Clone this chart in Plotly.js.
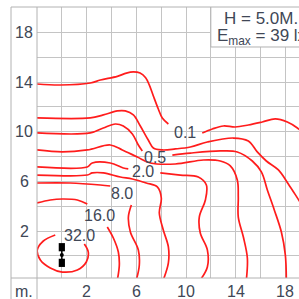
<!DOCTYPE html>
<html>
<head>
<meta charset="utf-8">
<script src="https://cdn.plot.ly/plotly-3.0.1.min.js"></script>
<style>
html,body{margin:0;padding:0;background:#fff;overflow:hidden;}
#chart{width:299px;height:299px;}
</style>
</head>
<body>
<div id="chart"></div>
<script>
// ---- data (metres / lux) ----
const xTickVals = [2, 6, 10, 14, 18];
const yTickVals = [2, 6, 10, 14, 18];
const unitLabel = 'm.';
const mountingText = 'H = 5.0M.';
const emaxText = 'E<sub>max</sub> = 39 lx';

// isolux lines
const c01aX = [-2, -0.12, 2.29, 3.10, 4.47, 5.20, 5.76, 6.30, 6.75, 7.05, 7.37, 7.77, 8.09, 8.58];
const c01aY = [13.84, 13.76, 13.92, 14.16, 14.45, 14.72, 14.81, 14.72, 14.35, 13.75, 12.88, 11.83, 11.10, 10.62];
const c01bX = [11.31, 12.12, 13.01, 13.97, 15.02, 16.14, 17.19, 18.16, 18.97, 19.61];
const c01bY = [9.90, 10.22, 10.46, 10.38, 10.54, 10.78, 11.03, 10.78, 10.30, 9.73];

const c02X = [-2, 2.29, 3.34, 4.47, 5.11, 5.76, 6.32, 6.96, 7.37, 8.09, 9.14, 10.35, 11.72, 13.81, 15.02, 15.74, 16.47, 17.44, 18.24, 19.13, 19.61];
const c02Y = [11.11, 11.11, 11.35, 11.67, 11.67, 11.35, 10.46, 9.33, 8.69, 8.53, 8.61, 8.77, 9.17, 9.49, 9.25, 8.37, 7.64, 6.92, 5.79, 4.42, 3.70];

const c05aX = [-2, 2.29, 3.34, 4.31, 4.95, 5.68, 6.16, 6.48];
const c05aY = [9.90, 9.90, 10.30, 10.62, 10.46, 9.82, 8.93, 8.45];
const c05bX = [8.90, 10.35, 12.76, 14.13, 15.34, 16.07, 16.55, 17.11, 17.68, 18.00, 18.08];
const c05bY = [8.12, 8.28, 8.45, 8.37, 7.64, 6.76, 5.31, 3.70, 1.92, 0.07, -1.94];

const c1X = [-2, 0.04, 2.05, 3.90, 4.87, 6.08, 7.13, 9.14, 11.40, 12.76, 13.57, 14.13, 14.21, 14.21, 14.62, 14.94, 14.86];
const c1Y = [8.53, 8.37, 8.53, 8.93, 8.53, 7.96, 7.48, 7.40, 7.72, 7.64, 7.24, 6.11, 4.74, 3.13, 1.52, -0.17, -1.94];

const c2aX = [-2, 2.05, 2.45, 3.90, 4.95, 5.35];
const c2aY = [7.16, 7.16, 7.48, 7.48, 7.08, 7.00];
const c2bX = [7.93, 9.54, 10.99, 11.64, 11.56, 11.07, 11.15, 11.72, 11.72, 11.15];
const c2bY = [6.68, 6.51, 6.35, 5.71, 4.50, 3.13, 1.84, 0.48, -0.89, -1.94];

const c4X = [-2, 2.05, 2.45, 3.34, 4.71, 5.68, 6.80, 7.69, 8.01, 7.85, 8.17, 8.58, 8.58, 8.17];
const c4Y = [6.51, 6.51, 6.68, 6.68, 6.35, 6.19, 5.87, 5.55, 4.66, 3.45, 2.09, 0.72, -0.57, -1.94];

const c8aX = [-2, 0.68, 3.10, 3.90];
const c8aY = [5.87, 5.87, 5.71, 5.63];
const c8bX = [5.60, 5.36, 5.52, 6.16, 6.24, 6.00];
const c8bY = [4.10, 3.13, 1.92, 0.48, -0.73, -1.94];

const c16aX = [-2, -0.93, 0.04, 1.25, 2.05];
const c16aY = [4.26, 4.50, 4.58, 4.50, 4.18];
const c16bX = [3.66, 4.15, 4.55, 4.63, 4.47];
const c16bY = [2.33, 1.44, 0.31, -0.73, -1.94];

const c32X = [-0.53, -1.49, -1.98, -1.73, -0.93, 0.04, 1.25, 1.97, 2.13, 1.81];
const c32Y = [1.68, 1.20, 0.48, -0.33, -0.97, -1.30, -1.13, -0.49, 0.31, 0.96];

const levelText = ['0.1', '0.5', '2.0', '8.0', '16.0', '32.0'];
const levelX = [9.95, 7.53, 6.56, 4.87, 3.02, 1.41];
const levelY = [9.90, 7.96, 6.76, 5.06, 3.29, 1.68];

// luminaire
const lumX = [0];
const lumY = [0.07];
const lumHeadsY = [0.70, -0.56];

// ---- styles ----
const RED = '#ff1c1c';
const TXT = '#404756';
const GRID = '#c4c4c4';
const FRAME = '#b2b2b2';
const FONT = 'Liberation Sans, Arial, sans-serif';

function iso(x, y) {
  return {type: 'scatter', mode: 'lines', x: x, y: y, hoverinfo: 'skip',
          line: {color: RED, width: 1.7, shape: 'spline', smoothing: 1}};
}

const traces = [
  iso(c01aX, c01aY), iso(c01bX, c01bY), iso(c02X, c02Y),
  iso(c05aX, c05aY), iso(c05bX, c05bY), iso(c1X, c1Y),
  iso(c2aX, c2aY), iso(c2bX, c2bY), iso(c4X, c4Y),
  iso(c8aX, c8aY), iso(c8bX, c8bY), iso(c16aX, c16aY), iso(c16bX, c16bY),
  iso(c32X, c32Y),
  {type: 'scatter', mode: 'lines', hoverinfo: 'skip',
   x: [lumX[0], lumX[0]], y: lumHeadsY, line: {color: '#000', width: 1.5}},
  {type: 'scatter', mode: 'markers', hoverinfo: 'skip',
   x: lumX, y: lumY, marker: {color: '#000', size: 4}}
];

const shapes = [];
// luminaire heads
lumHeadsY.forEach(function (hy) {
  shapes.push({type: 'rect', xref: 'x', yref: 'y', layer: 'above',
    x0: lumX[0] - 0.25, x1: lumX[0] + 0.25, y0: hy - 0.33, y1: hy + 0.33,
    fillcolor: '#000', line: {width: 0}});
});
// info box
shapes.push({type: 'rect', xref: 'x', yref: 'y', layer: 'above',
  x0: 12, x1: 30, y0: 16.82, y1: 30, fillcolor: '#fff', line: {color: FRAME, width: 1}});
// frame
const leftP = -0.0992;
shapes.push({type: 'line', xref: 'paper', yref: 'paper', layer: 'above', x0: leftP, x1: leftP, y0: -0.2, y1: 1, line: {color: FRAME, width: 1}});
shapes.push({type: 'line', xref: 'paper', yref: 'paper', layer: 'above', x0: leftP, x1: 1.2, y0: 1, y1: 1, line: {color: FRAME, width: 1}});
shapes.push({type: 'line', xref: 'paper', yref: 'paper', layer: 'above', x0: 0, x1: 0, y0: -0.2, y1: 1, line: {color: FRAME, width: 1}});
shapes.push({type: 'line', xref: 'paper', yref: 'paper', layer: 'above', x0: leftP, x1: 1.2, y0: 0, y1: 0, line: {color: FRAME, width: 1}});

const annotations = [];
const tickFont = {family: FONT, size: 16, color: TXT};
xTickVals.forEach(function (v) {
  annotations.push({xref: 'x', yref: 'paper', x: v, y: -0.048, text: String(v),
    showarrow: false, xanchor: 'center', yanchor: 'middle', font: tickFont});
});
yTickVals.forEach(function (v) {
  annotations.push({xref: 'paper', yref: 'y', x: -0.0496, y: v, text: String(v),
    showarrow: false, xanchor: 'center', yanchor: 'middle', font: tickFont});
});
annotations.push({xref: 'paper', yref: 'paper', x: -0.0496, y: -0.048, text: unitLabel,
  showarrow: false, xanchor: 'center', yanchor: 'middle', font: tickFont});
levelText.forEach(function (t, i) {
  annotations.push({xref: 'x', yref: 'y', x: levelX[i], y: levelY[i], text: t,
    showarrow: false, xanchor: 'center', yanchor: 'middle', font: tickFont});
});
annotations.push({xref: 'x', yref: 'y', x: 16, y: 19.1, text: mountingText,
  showarrow: false, xanchor: 'center', yanchor: 'middle', font: {family: FONT, size: 17, color: TXT}});
annotations.push({xref: 'x', yref: 'y', x: 16.1, y: 17.65, text: emaxText,
  showarrow: false, xanchor: 'center', yanchor: 'middle', font: {family: FONT, size: 17, color: TXT}});

const layout = {
  width: 299, height: 299,
  margin: {l: 37, r: 0, t: 7, b: 21, pad: 0},
  paper_bgcolor: '#fff', plot_bgcolor: '#fff',
  showlegend: false, hovermode: false,
  xaxis: {range: [-2, 19.10], tick0: 0, dtick: 2, showgrid: true, gridcolor: GRID, gridwidth: 1,
          zeroline: false, showticklabels: false, ticks: '', showline: false, fixedrange: true},
  yaxis: {range: [-1.78, 20.04], tick0: 0, dtick: 2, showgrid: true, gridcolor: GRID, gridwidth: 1,
          zeroline: false, showticklabels: false, ticks: '', showline: false, fixedrange: true},
  shapes: shapes,
  annotations: annotations
};

Plotly.newPlot('chart', traces, layout, {displayModeBar: false, staticPlot: true});
</script>
</body>
</html>
